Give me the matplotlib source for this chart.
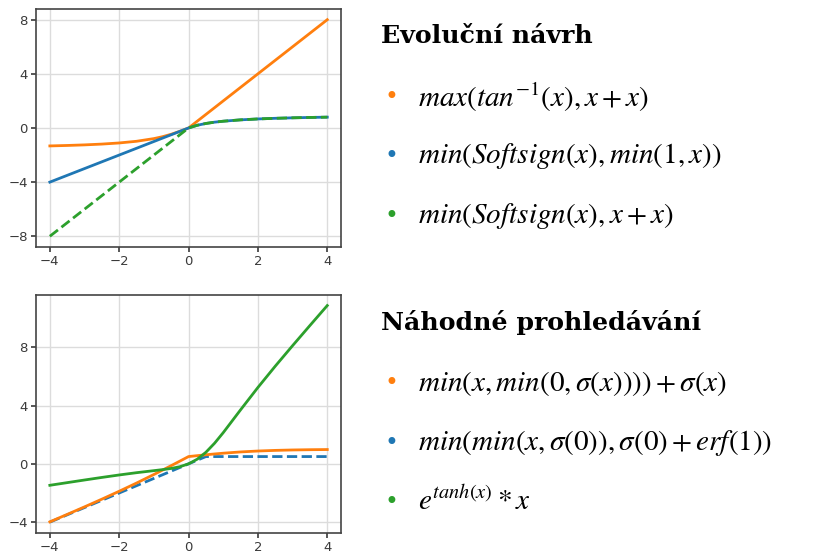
import matplotlib
matplotlib.use('Agg')
import matplotlib.pyplot as plt

# values
x = [-4, -3.5, -3, -2.5, -2, -1.5, -1, -0.75, -0.5, -0.25, 0,
     0.25, 0.5, 0.75, 1, 1.5, 2, 2.5, 3, 3.5, 4]

evo_orange = [-1.326, -1.292, -1.249, -1.190, -1.107, -0.983, -0.785, -0.644, -0.464, -0.245, 0,
              0.5, 1.0, 1.5, 2.0, 3.0, 4.0, 5.0, 6.0, 7.0, 8.0]
evo_blue = [-4, -3.5, -3, -2.5, -2, -1.5, -1, -0.75, -0.5, -0.25, 0,
            0.2, 0.333, 0.429, 0.5, 0.6, 0.667, 0.714, 0.75, 0.778, 0.8]
evo_green = [-8, -7, -6, -5, -4, -3, -2, -1.5, -1, -0.5, 0,
             0.2, 0.333, 0.429, 0.5, 0.6, 0.667, 0.714, 0.75, 0.778, 0.8]

rnd_orange = [-3.982, -3.471, -2.953, -2.424, -1.881, -1.318, -0.731, -0.429, -0.123, 0.188, 0.5,
              0.562, 0.622, 0.679, 0.731, 0.818, 0.881, 0.924, 0.953, 0.971, 0.982]
rnd_blue = [-4, -3.5, -3, -2.5, -2, -1.5, -1, -0.75, -0.5, -0.25, 0,
            0.25, 0.5, 0.5, 0.5, 0.5, 0.5, 0.5, 0.5, 0.5, 0.5]
rnd_green = [-1.472, -1.290, -1.109, -0.932, -0.763, -0.607, -0.467, -0.397, -0.315, -0.196, 0,
             0.319, 0.794, 1.415, 2.142, 3.708, 5.244, 6.705, 8.114, 9.497, 10.866]

evo_title = 'Evoluční návrh'
evo_labels = [r'$max(tan^{-1}(x), x + x)$',
              r'$min(Softsign(x), min(1, x))$',
              r'$min(Softsign(x), x + x)$']
rnd_title = 'Náhodné prohledávání'
rnd_labels = [r'$min(x, min(0, \sigma(x)))) + \sigma(x)$',
              r'$min(min(x, \sigma(0)), \sigma(0) + erf(1))$',
              r'$e^{tanh(x)} * x$']

ORANGE, BLUE, GREEN = '#ff7f0e', '#1f77b4', '#2ca02c'
plt.rcParams['mathtext.fontset'] = 'stix'

fig = plt.figure(figsize=(8.27, 5.54), dpi=100)
ax1 = fig.add_axes([0.0435, 0.554, 0.369, 0.430])
ax2 = fig.add_axes([0.0435, 0.038, 0.369, 0.430])

ax1.plot(x, evo_orange, color=ORANGE, lw=2)
ax1.plot(x, evo_blue, color=BLUE, lw=2)
ax1.plot(x, evo_green, color=GREEN, lw=2, ls='--')
ax1.set_yticks([-8, -4, 0, 4, 8])

ax2.plot(x, rnd_blue, color=BLUE, lw=2, ls='--')
ax2.plot(x, rnd_orange, color=ORANGE, lw=2)
ax2.plot(x, rnd_green, color=GREEN, lw=2)
ax2.set_yticks([-4, 0, 4, 8])

for ax in (ax1, ax2):
    ax.set_xticks([-4, -2, 0, 2, 4])
    ax.grid(True, color='#dcdcdc', lw=1)
    ax.set_axisbelow(True)
    for s in ax.spines.values():
        s.set_color('#444444'); s.set_linewidth(1.2)
    ax.tick_params(labelsize=9.5, colors='#3a3a3a', length=3.5, width=1.2, pad=2.5)

colors = [ORANGE, BLUE, GREEN]
def block(title, labels, y0):
    fig.text(0.461, y0, title, fontsize=18.2, fontweight='bold', family='DejaVu Serif',
             va='center', ha='left')
    for i, (lab, c) in enumerate(zip(labels, colors)):
        yy = y0 - 0.11 * (i + 1) + 0.003 * i
        fig.text(0.473, yy, '•', fontsize=17, color=c, va='center', ha='center')
        fig.text(0.505, yy, lab, fontsize=21, va='center', ha='left')

block(evo_title, evo_labels, 0.935)
block(rnd_title, rnd_labels, 0.418)

fig.savefig('out.png', dpi=100)
